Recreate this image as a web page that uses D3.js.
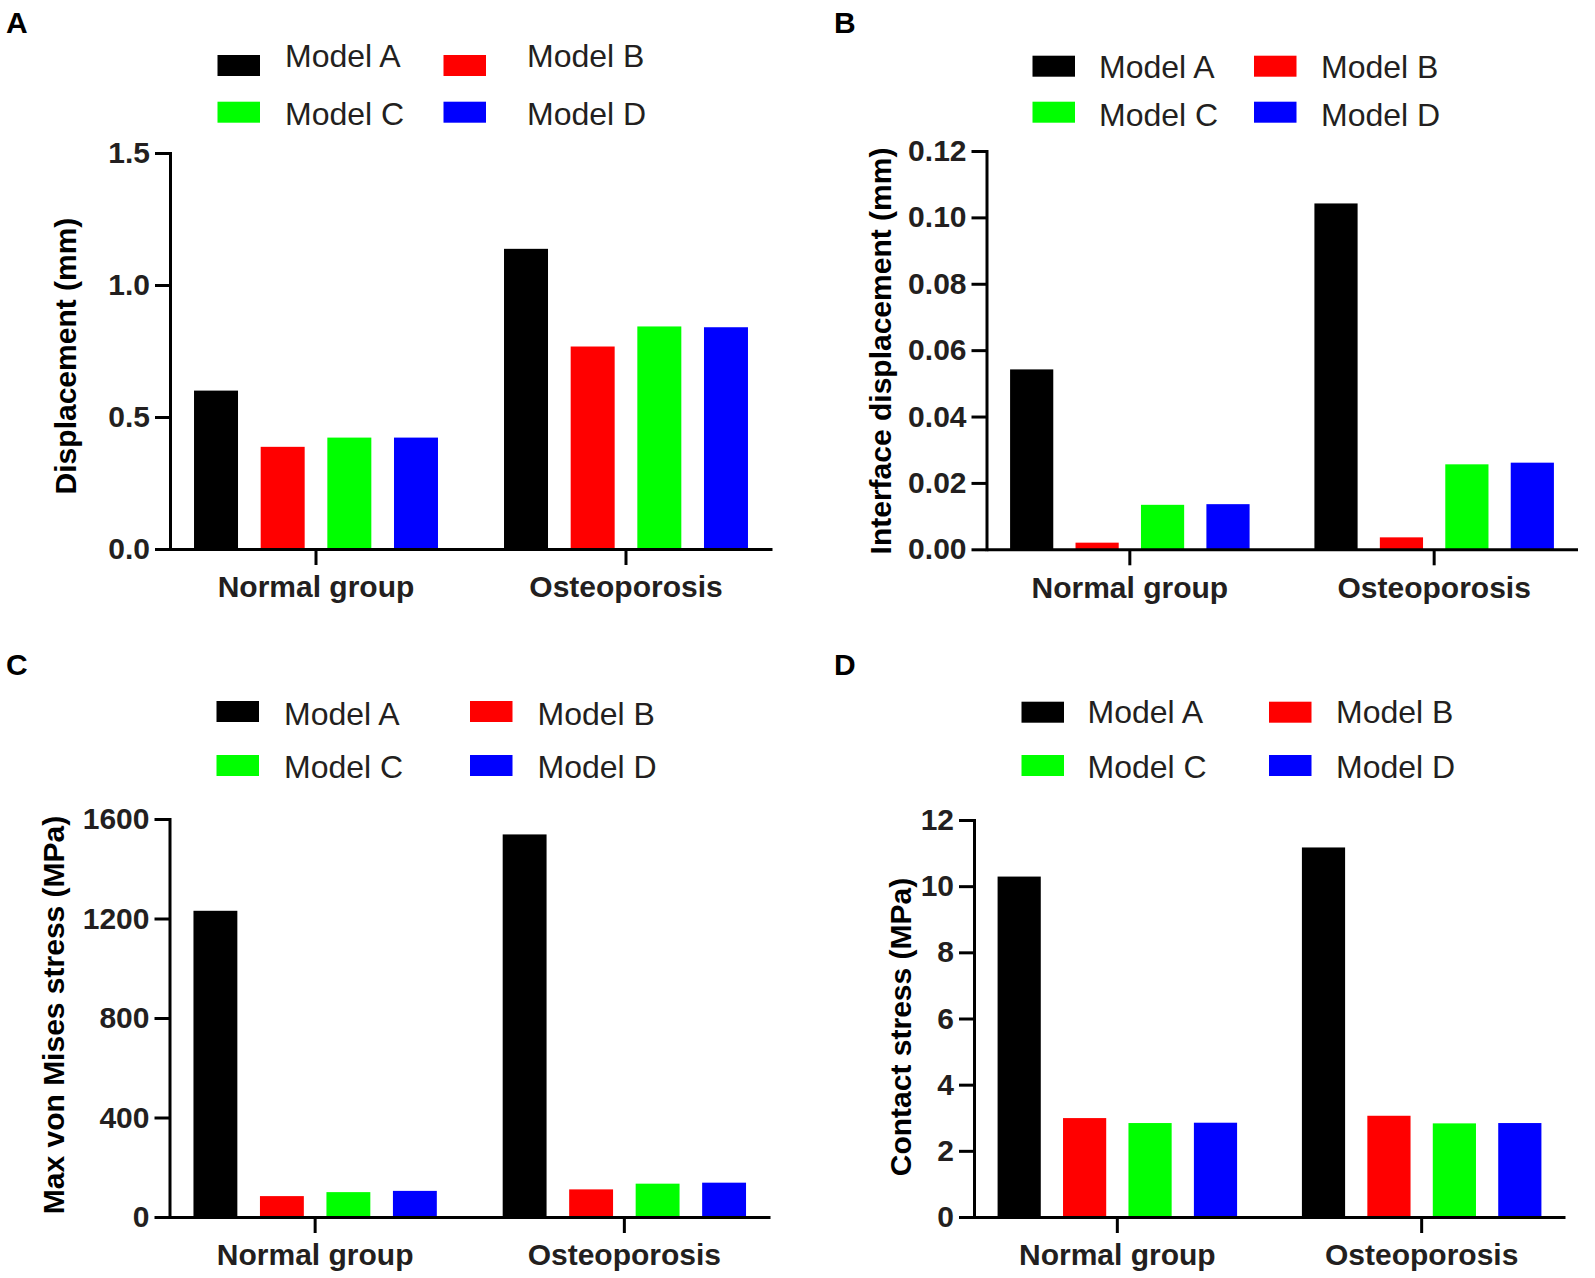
<!DOCTYPE html>
<html>
<head>
<meta charset="utf-8">
<script src="https://cdn.jsdelivr.net/npm/d3@7"></script>
<style>
	body { margin: 0; background: #fff; }
	text { font-family: "Liberation Sans", Arial, sans-serif; fill: #231f20; }
	.axis path, .axis line { stroke: #000; stroke-width: 3; }
	.axis text { font-size: 30px; font-weight: bold; }
	.legend-label { font-size: 32px; }
	.axis-title { font-size: 30px; font-weight: bold; fill: #000; }
	.panel-label { font-size: 30px; font-weight: bold; fill: #000; }
</style>
</head>
<body>
<div id="chart-area"></div>
<script>

// groups on the x-axis and the four models (legend)
var groups = ["Normal group", "Osteoporosis"];
var models = ["Model A", "Model B", "Model C", "Model D"];
var modelColors = ["#000000", "#ff0000", "#00ff00", "#0000ff"];

// values per model: [Normal group, Osteoporosis]
var displacementA = [0.600, 1.137];
var displacementB = [0.387, 0.767];
var displacementC = [0.422, 0.843];
var displacementD = [0.422, 0.840];

var interfaceA = [0.0542, 0.1042];
var interfaceB = [0.0020, 0.0036];
var interfaceC = [0.0134, 0.0256];
var interfaceD = [0.0136, 0.0261];

var misesA = [1231, 1538];
var misesB = [84, 111];
var misesC = [100, 134];
var misesD = [105, 138];

var contactA = [10.29, 11.17];
var contactB = [2.99, 3.06];
var contactC = [2.84, 2.83];
var contactD = [2.85, 2.84];

// y tick labels
var displacementTicks = [0, 0.5, 1.0, 1.5];
var interfaceTicks = [0, 0.02, 0.04, 0.06, 0.08, 0.10, 0.12];
var misesTicks = [0, 400, 800, 1200, 1600];
var contactTicks = [0, 2, 4, 6, 8, 10, 12];


var svg = d3.select("#chart-area").append("svg")
	.attr("width", 1595)
	.attr("height", 1278);


/*
 * GroupedBarChart - one panel of the figure
 * @param _svg		-- svg to draw into
 * @param _series	-- one array of values per model
 * @param _config	-- position, axis and legend settings
 */

GroupedBarChart = function(_svg, _series, _config){
	this.svg = _svg;
	this.series = _series;
	this.config = _config;

	this.initVis();
}


GroupedBarChart.prototype.initVis = function(){
	var vis = this;
	var c = vis.config;

	vis.width = c.right - c.left;
	vis.height = c.bottom - c.top;

	// rows for d3: one per group
	vis.data = groups.map(function(g, i){
		return { group: g, values: models.map(function(m, j){ return { model: m, value: vis.series[j][i] }; }) };
	});

	vis.g = vis.svg.append("g")
		.attr("transform", "translate(" + c.left + "," + c.top + ")");

	// Scales
	vis.x0 = d3.scaleBand()
		.domain(groups)
		.range([0, vis.width])
		.paddingInner(0.213)
		.paddingOuter(0.0775);

	vis.x1 = d3.scaleBand()
		.domain(models)
		.range([0, vis.x0.bandwidth()])
		.paddingInner(0.34);

	vis.y = d3.scaleLinear()
		.domain([0, c.yMax])
		.range([vis.height, 0]);

	vis.color = d3.scaleOrdinal()
		.domain(models)
		.range(modelColors);

	vis.updateVis();
}


GroupedBarChart.prototype.updateVis = function(){
	var vis = this;
	var c = vis.config;

	// Draw rectangles
	var grp = vis.g.selectAll(".group")
		.data(vis.data)
		.enter().append("g")
			.attr("class", "group")
			.attr("transform", function(d){ return "translate(" + vis.x0(d.group) + ",0)"; });

	grp.selectAll("rect")
		.data(function(d){ return d.values; })
		.enter().append("rect")
			.attr("x", function(d){ return vis.x1(d.model); })
			.attr("width", vis.x1.bandwidth())
			.attr("y", function(d){ return vis.y(d.value); })
			.attr("height", function(d){ return vis.height - vis.y(d.value); })
			.attr("fill", function(d){ return vis.color(d.model); });

	// Axes
	var yAxis = d3.axisLeft(vis.y)
		.tickValues(c.ticks)
		.tickFormat(d3.format(c.format))
		.tickSize(15)
		.tickSizeOuter(0)
		.tickPadding(5);

	vis.g.append("g")
		.attr("class", "axis y-axis")
		.call(yAxis)
		.select(".domain").attr("stroke-linecap", "square");

	var xAxis = d3.axisBottom(vis.x0)
		.tickSize(16)
		.tickSizeOuter(0)
		.tickPadding(11);

	vis.g.append("g")
		.attr("class", "axis x-axis")
		.attr("transform", "translate(0," + vis.height + ")")
		.call(xAxis);

	// axis title
	vis.svg.append("text")
		.attr("class", "axis-title")
		.attr("text-anchor", "middle")
		.attr("transform", "translate(" + c.titleX + "," + c.titleY + ") rotate(-90)")
		.text(c.title);

	// panel letter
	vis.svg.append("text")
		.attr("class", "panel-label")
		.attr("x", c.label[1])
		.attr("y", c.label[2])
		.text(c.label[0]);

	// Legend, 2 x 2
	var leg = vis.svg.selectAll(".legend-" + c.label[0])
		.data(models)
		.enter().append("g")
			.attr("class", "legend-" + c.label[0]);

	leg.append("rect")
		.attr("x", function(d, i){ return c.legend.swatchX[i % 2]; })
		.attr("y", function(d, i){ return c.legend.swatchY[Math.floor(i / 2)]; })
		.attr("width", 42.5)
		.attr("height", 21)
		.attr("fill", function(d){ return vis.color(d); });

	leg.append("text")
		.attr("class", "legend-label")
		.attr("x", function(d, i){ return c.legend.textX[i % 2]; })
		.attr("y", function(d, i){ return c.legend.textY[Math.floor(i / 2)]; })
		.text(function(d){ return d; });
}


new GroupedBarChart(svg, [displacementA, displacementB, displacementC, displacementD], {
	left: 170, right: 772, top: 153, bottom: 549,
	yMax: 1.5, ticks: displacementTicks, format: ".1f",
	title: "Displacement (mm)", titleX: 76, titleY: 356,
	label: ["A", 6, 33],
	legend: { swatchX: [217.5, 443.5], textX: [285, 527], swatchY: [55, 101.7], textY: [66.7, 125] }
});

new GroupedBarChart(svg, [interfaceA, interfaceB, interfaceC, interfaceD], {
	left: 986.5, right: 1577.5, top: 151, bottom: 549.3,
	yMax: 0.12, ticks: interfaceTicks, format: ".2f",
	title: "Interface displacement (mm)", titleX: 891, titleY: 351,
	label: ["B", 834, 33],
	legend: { swatchX: [1032.5, 1254], textX: [1099, 1321], swatchY: [55.7, 101.7], textY: [78, 126] }
});

new GroupedBarChart(svg, [misesA, misesB, misesC, misesD], {
	left: 169.5, right: 770, top: 819, bottom: 1217,
	yMax: 1600, ticks: misesTicks, format: "d",
	title: "Max von Mises stress (MPa)", titleX: 64, titleY: 1015,
	label: ["C", 6, 675],
	legend: { swatchX: [216.5, 470], textX: [284, 537.5], swatchY: [701, 755], textY: [725, 777.7] }
});

new GroupedBarChart(svg, [contactA, contactB, contactC, contactD], {
	left: 974, right: 1565, top: 820, bottom: 1217,
	yMax: 12, ticks: contactTicks, format: "d",
	title: "Contact stress (MPa)", titleX: 911, titleY: 1027,
	label: ["D", 834, 675],
	legend: { swatchX: [1021.5, 1269], textX: [1087.5, 1336], swatchY: [701.7, 755], textY: [723.3, 777.7] }
});

</script>
</body>
</html>
